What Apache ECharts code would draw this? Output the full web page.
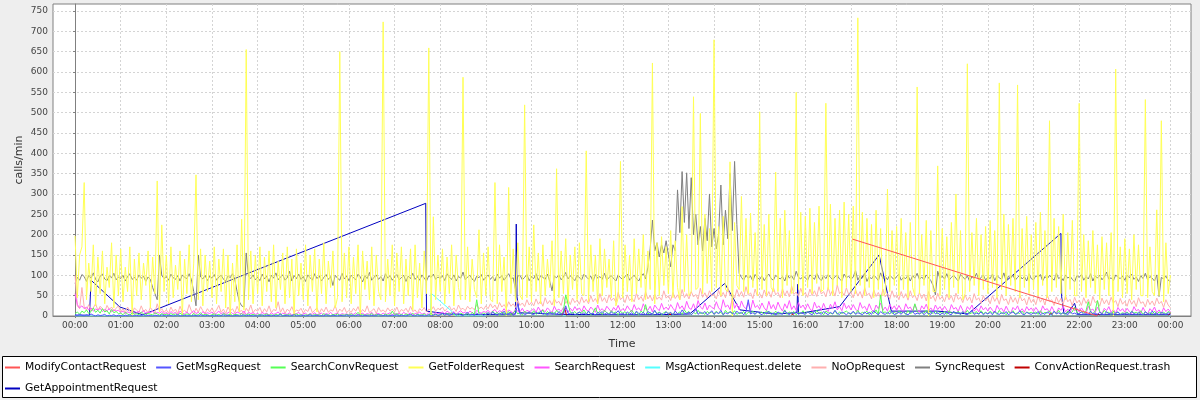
<!DOCTYPE html>
<html><head><meta charset="utf-8">
<script src="https://cdn.jsdelivr.net/npm/echarts@6/dist/echarts.min.js"></script>
<style>html,body{margin:0;padding:0;background:#eeeeee}#c{width:1200px;height:400px}</style>
</head><body><div id="c"></div>
<script>
// ---- data ----
const STEP = 3; // minutes between samples of the dense series
const hourTicks = [0,60,120,180,240,300,360,420,480,540,600,660,720,780,840,900,960,1020,1080,1140,1200,1260,1320,1380,1440];
const hourLabels = ['00:00','01:00','02:00','03:00','04:00','05:00','06:00','07:00','08:00','09:00','10:00','11:00','12:00','13:00','14:00','15:00','16:00','17:00','18:00','19:00','20:00','21:00','22:00','23:00','00:00'];
const yTicks = [0,50,100,150,200,250,300,350,400,450,500,550,600,650,700,750];
const seriesNames = ['ModifyContactRequest','GetMsgRequest','SearchConvRequest','GetFolderRequest','SearchRequest','MsgActionRequest.delete','NoOpRequest','SyncRequest','ConvActionRequest.trash','GetAppointmentRequest'];
const seriesColors = ['#ff5555','#5555ff','#55ff55','#ffff55','#ff55ff','#55ffff','#ffafaf','#808080','#c00000','#0000c0'];

const getFolder = [
197,45,150,170,328,40,130,60,175,25,145,55,160,30,120,70,180,20,150,50,
165,35,120,60,170,0,140,50,155,40,130,75,160,20,145,55,332,10,224,60,
150,30,170,45,125,65,160,0,140,55,175,35,130,347,40,165,25,150,60,135,
45,170,30,140,60,165,20,150,0,130,35,175,10,238,15,655,40,160,30,150,
55,170,25,145,60,160,35,175,20,135,65,155,30,170,45,140,0,165,50,130,
40,175,25,150,60,165,10,140,55,180,30,135,70,160,20,45,650,35,155,45,
170,30,145,55,175,0,160,65,135,40,170,25,150,60,40,723,35,140,50,175,
25,155,60,170,30,140,50,165,15,175,45,130,20,160,55,659,0,244,40,150,
60,165,30,145,55,175,25,150,70,40,587,40,170,35,140,65,45,212,30,155,
50,170,40,35,328,30,175,60,145,0,316,55,165,35,180,50,40,519,45,170,
35,224,60,155,30,175,50,140,70,185,25,362,45,160,55,190,30,150,65,170,
40,180,55,50,406,35,175,60,150,30,190,50,165,70,140,45,185,25,45,380,
45,175,60,150,35,190,55,165,70,200,40,160,65,622,30,180,50,195,75,170,
55,210,45,185,70,40,269,60,200,50,60,539,65,70,498,55,250,80,215,60,
679,70,220,50,245,65,60,379,0,230,75,65,294,60,240,55,253,70,205,50,
502,65,225,50,250,70,60,354,60,240,45,260,75,210,55,60,550,65,255,50,
245,70,265,55,230,80,270,60,65,523,65,275,50,240,75,260,45,280,70,250,
60,270,55,733,75,255,50,240,70,225,45,260,65,215,50,55,312,60,210,75,
220,50,240,65,205,45,230,70,50,563,55,200,75,235,0,210,60,60,369,50,
215,65,195,45,230,70,300,55,210,40,55,620,60,205,75,240,50,200,65,220,
55,235,70,210,45,573,65,250,50,225,75,240,60,568,45,215,70,245,55,200,
65,230,50,255,75,210,45,480,60,240,70,220,55,250,40,205,65,235,50,50,
523,60,200,45,185,70,210,55,175,40,195,65,180,50,205,0,607,60,170,45,
190,55,165,40,200,65,175,50,50,532,45,170,60,50,261,50,480,35,180,55,
100];

const sync = [
80,95,88,102,97,85,100,93,106,90,84,98,103,91,87,99,94,105,89,96,
92,100,86,97,104,90,95,88,101,93,98,85,96,90,70,55,40,150,100,92,
97,88,103,94,90,99,86,101,95,92,104,89,60,25,150,96,91,100,87,98,
93,102,88,96,100,91,85,99,94,104,90,60,35,25,22,155,98,92,101,89,
95,87,103,91,98,84,100,93,106,89,96,101,88,94,110,86,99,92,103,90,
97,85,101,94,88,104,92,99,86,95,102,90,97,75,100,93,88,105,91,98,
87,100,94,89,103,96,84,99,92,107,88,95,101,90,97,86,104,93,99,88,
96,102,89,94,100,85,98,92,105,90,97,88,101,93,86,99,95,103,90,96,
92,99,87,104,95,90,101,86,97,93,108,89,96,100,91,85,98,94,102,88,
95,101,90,97,86,103,93,99,88,96,104,91,94,65,98,100,89,95,102,87,
97,92,104,88,99,95,90,103,86,62,98,94,101,89,96,107,91,99,93,87,
100,94,89,103,96,91,98,85,102,93,97,90,105,88,95,99,92,86,101,94,
90,97,103,88,95,100,92,86,98,104,91,120,165,236,160,180,145,175,155,185,
150,121,175,160,310,205,355,230,352,215,340,200,250,175,220,160,240,185,300,170,
215,165,200,322,175,260,190,352,210,380,225,105,95,88,100,93,98,86,102,94,
90,99,87,96,103,92,88,100,95,91,97,86,104,93,99,89,110,95,91,98,
94,88,101,96,90,105,93,87,99,92,102,95,89,97,100,91,86,103,94,98,
90,96,112,88,99,93,104,85,97,91,100,95,87,106,92,98,89,101,94,90,
97,103,88,95,92,100,86,99,93,105,90,96,89,101,94,87,75,52,110,92,
98,91,104,88,95,100,93,86,102,96,90,99,85,97,92,105,89,94,101,88,
96,92,103,87,99,94,90,106,85,98,93,101,88,95,100,91,97,86,104,92,
89,99,95,102,86,97,91,100,94,88,105,92,96,87,101,93,98,90,84,99,
95,102,88,97,91,104,86,99,93,100,89,96,108,90,94,87,101,95,92,98,
88,100,94,103,90,96,85,99,92,105,89,97,93,86,101,48,95,91,98,88,
84];

const noOp = [
100,25,18,70,22,15,28,12,20,30,14,24,18,10,26,16,22,12,19,25,
10,18,8,22,12,6,20,14,9,25,11,16,7,21,13,8,30,12,18,9,
15,7,22,11,17,6,24,10,14,8,28,12,5,19,9,23,13,7,18,10,
20,8,15,26,9,17,6,22,12,18,7,24,10,14,5,19,11,27,8,16,
12,21,7,18,10,25,8,16,13,35,9,20,6,17,11,23,8,15,12,19,
7,16,11,24,8,14,20,6,18,10,22,9,15,12,26,7,17,11,21,8,
14,9,19,12,23,7,16,10,25,8,13,18,6,21,11,15,9,20,12,17,
10,22,8,16,12,19,9,24,11,15,7,18,13,21,10,17,14,23,12,19,
15,22,12,18,25,14,20,11,27,16,19,13,24,17,21,15,28,18,22,16,
25,18,30,20,27,16,33,22,28,19,35,24,30,21,38,26,32,23,40,27,
34,25,42,29,37,24,45,30,38,27,43,32,36,26,48,31,40,28,44,33,
39,29,47,33,41,30,50,35,43,31,55,36,45,32,52,38,44,34,58,40,
46,33,52,38,44,35,56,40,48,36,60,42,50,37,54,41,47,39,62,44,
50,38,58,43,52,40,65,45,55,42,60,47,53,41,68,46,57,44,62,49,
54,42,63,47,58,45,70,50,56,44,65,48,60,46,72,51,57,43,66,49,
55,44,64,48,60,46,70,52,58,45,67,50,62,47,74,53,59,48,68,51,
57,46,66,50,62,48,72,54,60,47,70,52,64,49,76,55,61,50,69,53,
58,45,65,49,60,44,70,51,56,42,64,48,58,43,66,47,55,41,62,46,
53,40,60,44,55,39,62,45,51,38,58,43,54,37,60,42,50,36,56,41,
48,35,54,40,50,34,56,41,46,33,52,38,47,32,55,39,45,31,50,37,
44,30,50,36,46,29,53,38,42,28,48,34,45,30,51,37,43,27,47,33,
42,28,49,34,44,27,52,36,40,26,47,33,43,29,50,35,41,25,46,32,
39,26,45,31,41,25,48,33,37,24,44,30,40,27,46,32,38,23,43,29,
36,24,42,29,38,23,45,31,35,22,41,28,37,25,44,30,36,21,40,27,
20];

const search = [
55,28,20,25,18,22,15,20,12,17,14,19,11,16,13,18,10,15,12,14,
9,12,6,10,8,13,5,9,11,7,14,6,10,8,12,5,9,7,11,6,
8,4,11,6,9,3,12,7,5,10,4,8,13,6,9,3,11,5,8,6,
10,4,7,12,5,9,3,8,11,6,4,10,7,5,12,3,9,6,8,4,
6,3,9,5,7,2,8,4,6,10,3,7,5,4,8,2,6,5,9,3,
5,7,2,6,4,8,3,5,7,2,6,4,9,3,5,7,2,6,4,5,
3,6,4,8,2,5,7,3,6,4,9,2,5,6,3,7,4,5,8,3,
6,4,7,3,9,5,4,8,2,6,5,10,4,7,3,8,6,4,9,5,
7,10,5,12,8,6,11,4,9,13,7,10,6,12,8,5,14,9,7,11,
9,14,7,12,16,8,13,10,18,9,15,11,7,17,12,10,19,8,14,11,
13,18,9,22,12,16,10,20,14,8,24,13,17,11,21,15,9,19,12,23,
14,20,10,25,15,12,22,16,9,27,13,18,11,24,17,10,21,14,26,12,
18,13,25,16,11,28,15,20,12,30,17,14,24,10,27,19,13,31,16,22,
15,28,19,12,33,18,25,14,36,20,16,30,13,38,22,17,32,15,27,21,
18,35,20,14,40,22,27,16,44,19,30,15,37,23,18,33,14,39,21,26,
17,32,20,13,36,18,28,15,34,21,12,30,19,38,16,25,14,33,20,27,
16,30,18,12,34,20,25,14,31,17,11,29,19,35,15,23,13,32,18,26,
15,28,17,11,33,19,24,13,30,16,10,27,18,32,14,22,12,29,17,25,
14,26,16,10,30,18,22,12,28,15,9,25,17,29,13,20,11,27,16,23,
13,24,15,9,28,17,21,11,26,14,8,23,16,27,12,19,10,25,15,21,
12,22,14,8,26,16,19,10,24,13,7,21,15,25,11,18,9,23,14,20,
11,21,13,7,25,15,18,9,23,12,7,20,14,24,10,17,8,22,13,19,
10,20,12,6,24,14,17,8,22,11,6,19,13,23,9,16,7,21,12,18,
9,19,11,6,23,13,16,7,21,10,5,18,12,22,8,15,6,20,11,17,
10];

const searchConv = [
5,10,4,12,8,15,6,11,20,9,14,7,18,10,13,5,16,8,11,6,
7,3,9,5,2,8,4,6,3,10,5,2,7,4,3,8,5,2,6,3,
4,2,6,3,5,1,7,3,2,5,4,1,6,2,3,8,2,4,3,1,
3,5,2,4,1,6,3,2,5,1,4,3,2,6,1,3,5,2,4,2,
2,4,1,3,5,2,3,1,4,2,6,1,3,2,4,1,3,5,2,3,
1,3,2,5,1,4,2,3,1,6,2,3,1,4,2,5,1,3,2,4,
2,5,1,3,9,2,4,1,3,2,6,1,4,2,3,1,5,2,3,12,
3,6,2,4,1,5,3,2,7,1,4,3,2,5,1,3,6,2,4,2,
3,5,2,6,4,8,3,5,2,7,4,3,6,2,9,4,40,5,3,7,
4,8,3,12,5,9,2,10,6,4,11,3,7,14,5,8,3,12,6,9,
5,13,4,9,7,15,3,11,6,10,4,14,8,5,12,52,30,9,6,11,
4,10,7,15,5,12,3,9,20,6,11,4,14,8,5,13,7,10,3,12,
6,11,4,9,14,5,10,3,12,7,28,5,9,4,13,6,10,3,8,11,
5,9,3,12,6,10,4,15,7,11,3,9,5,14,6,8,4,11,7,10,
4,12,6,9,3,14,7,10,5,13,4,8,6,11,3,9,7,12,5,10,
6,10,4,13,7,9,3,12,5,8,6,15,4,10,7,11,3,9,6,13,
5,11,7,9,4,14,6,10,3,12,8,7,5,13,4,10,6,9,12,7,
4,10,6,14,5,9,7,12,3,11,6,15,4,52,8,10,5,13,6,9,
5,12,7,10,4,13,6,9,30,11,5,8,7,14,4,10,6,12,5,9,
6,11,4,13,7,9,5,12,3,10,6,14,5,8,7,11,4,13,6,9,
5,12,7,10,4,14,6,9,3,11,7,13,5,8,6,12,4,10,7,9,
6,10,4,13,5,9,7,12,3,11,6,14,5,8,4,12,7,10,22,9,
5,11,7,13,35,9,6,12,38,10,5,14,7,9,4,12,6,10,5,8,
6,10,4,12,7,9,5,13,3,11,6,8,5,12,4,10,7,9,5,11,
8];

const getMsg = [
3,1,4,2,0,3,1,5,2,0,3,1,2,4,0,2,1,3,0,2,
1,0,2,1,3,0,1,2,0,1,3,0,2,1,0,2,1,0,3,1,
0,2,1,0,1,3,0,1,2,0,1,0,2,1,0,3,1,0,2,0,
1,0,2,0,1,3,0,2,1,0,1,2,0,1,3,0,2,1,0,1,
0,1,3,0,2,1,0,2,0,1,4,0,1,2,0,1,3,0,1,0,
2,0,1,3,0,1,2,0,1,0,3,1,0,2,1,0,2,1,0,3,
0,1,2,0,3,1,0,2,1,0,2,0,1,4,0,1,2,0,1,2,
1,3,0,2,1,0,2,4,1,0,3,1,2,0,1,3,0,2,5,1,
3,6,2,5,1,4,8,2,6,3,1,5,9,3,4,2,7,3,5,2,
4,8,3,10,5,2,7,4,12,3,6,9,2,5,30,4,8,3,6,10,
5,3,9,6,12,4,7,2,10,5,8,3,11,6,4,25,7,5,9,3,
6,10,4,8,3,12,5,7,2,9,6,11,4,8,3,10,5,7,13,4,
7,3,10,5,8,2,12,6,4,9,3,11,7,5,14,4,8,6,3,10,
5,9,3,12,6,4,15,7,5,10,3,8,18,4,9,6,11,3,7,13,
4,9,6,14,3,8,5,11,7,4,12,6,9,3,10,40,5,8,4,11,
6,3,9,5,12,4,8,2,10,6,4,13,7,3,9,5,11,4,8,6,
4,10,6,3,12,5,8,4,11,7,3,9,5,14,6,4,10,7,3,8,
5,12,4,8,6,3,10,5,9,4,13,7,3,11,6,4,9,5,12,3,
6,9,4,11,5,3,8,12,4,7,5,10,3,9,6,4,13,5,8,3,
7,4,10,5,3,12,6,8,4,11,5,3,9,14,4,7,5,10,3,8,
5,9,3,12,6,4,8,5,11,3,7,10,4,6,13,5,3,9,6,4,
8,5,11,3,7,4,10,6,3,12,5,8,4,9,6,3,11,5,7,4,
6,10,4,8,3,12,5,7,4,9,6,3,11,5,8,4,7,10,3,6,
5,8,3,11,6,4,9,5,3,10,6,4,12,5,7,3,9,6,4,8,
5];

// sparse series: minute of day, value
const modifyTimes = [1022, 1344];
const modifyValues = [189, 0];
const deleteTimes = [0, 467, 468, 495, 500, 1440];
const deleteValues = [0, 0, 56, 12, 0, 0];
const trashTimes = [540, 573, 574, 576, 640, 644, 646, 780, 782, 784, 942, 943, 945, 1280, 1283, 1285, 1344, 1345, 1347, 1437, 1440];
const trashValues = [0, 0, 6, 0, 0, 20, 0, 0, 6, 0, 0, 6, 0, 0, 8, 0, 0, 6, 0, 0, 8];
const apptTimes = [0, 19, 21, 59, 89, 461, 462, 490, 520, 579, 580, 581, 584, 640, 700, 760, 808, 854, 874, 920, 949, 950, 951, 1005, 1057, 1073, 1134, 1174, 1296, 1297, 1300, 1305, 1314, 1318, 1380, 1440];
const apptValues = [2, 2, 88, 22, 3, 277, 12, 5, 3, 5, 226, 47, 8, 4, 3, 3, 5, 80, 15, 5, 8, 78, 6, 23, 150, 12, 12, 5, 203, 47, 5, 8, 31, 3, 3, 3];

// ---- build ----
const dense = arr => arr.map((v, i) => [i * STEP, v]);
const sparse = (t, v) => t.map((x, i) => [x, v[i]]);
const seriesData = [
  sparse(modifyTimes, modifyValues),
  dense(getMsg),
  dense(searchConv),
  dense(getFolder),
  dense(search),
  sparse(deleteTimes, deleteValues),
  dense(noOp),
  dense(sync),
  sparse(trashTimes, trashValues),
  sparse(apptTimes, apptValues)
];
const FONT = 'DejaVu Sans';
// JFreeChart draws the first series on top: build in reverse order
const series = [];
for (let i = seriesNames.length - 1; i >= 0; i--) {
  series.push({
    name: seriesNames[i], type: 'line', data: seriesData[i],
    showSymbol: false, symbol: 'none',
    lineStyle: { width: 1, color: seriesColors[i] },
    itemStyle: { color: seriesColors[i] },
    emphasis: { disabled: true }
  });
}
const legendData = seriesNames.map((n, i) => ({ name: n, itemStyle: { color: seriesColors[i], borderWidth: 0 } }));
const chart = echarts.init(document.getElementById('c'), null, { renderer: 'canvas' });
chart.setOption({
  animation: false,
  backgroundColor: '#eeeeee',
  textStyle: { fontFamily: FONT },
  grid: { left: 53, right: 9, top: 4, bottom: 84, show: true, backgroundColor: '#ffffff', borderColor: '#808080', borderWidth: 1 },
  xAxis: {
    type: 'value', min: -29, max: 1467,
    name: 'Time', nameLocation: 'middle', nameGap: 23,
    nameTextStyle: { fontFamily: FONT, fontSize: 11, color: '#333' },
    axisLine: { show: true, lineStyle: { color: '#808080', width: 1 } },
    axisTick: { show: true, length: 2, customValues: hourTicks, lineStyle: { color: '#808080' } },
    axisLabel: { customValues: hourTicks, margin: 5, fontFamily: FONT, fontSize: 9, color: '#444',
      formatter: v => hourLabels[Math.round(v / 60)] },
    splitLine: { show: true, lineStyle: { color: '#d4d4d4', width: 1, type: [2, 2] } }
  },
  yAxis: {
    type: 'value', min: 0, max: 767,
    name: 'calls/min', nameLocation: 'middle', nameGap: 28, nameRotate: 90, nameMoveOverlap: false,
    nameTextStyle: { fontFamily: FONT, fontSize: 11, color: '#333' },
    axisLine: { show: true, lineStyle: { color: '#808080', width: 1 } },
    axisTick: { show: true, length: 2, customValues: yTicks, lineStyle: { color: '#808080' } },
    axisLabel: { customValues: yTicks, margin: 5, fontFamily: FONT, fontSize: 9, color: '#444' },
    splitLine: { show: true, lineStyle: { color: '#d4d4d4', width: 1, type: [2, 2] } }
  },
  legend: {
    data: legendData, left: 5, top: 362, width: 1190, padding: 0,
    itemGap: 10, itemWidth: 15, itemHeight: 2, icon: 'rect',
    itemStyle: { borderWidth: 0 },
    selectedMode: false, z: 5,
    textStyle: { fontFamily: FONT, fontSize: 10.75, color: '#000', lineHeight: 10 }
  },
  graphic: [{
    type: 'rect', z: 1, silent: true,
    shape: { x: 2.5, y: 356.5, width: 1194, height: 41 },
    style: { fill: '#ffffff', stroke: '#000000', lineWidth: 1 }
  }],
  series: series
});
</script></body></html>
